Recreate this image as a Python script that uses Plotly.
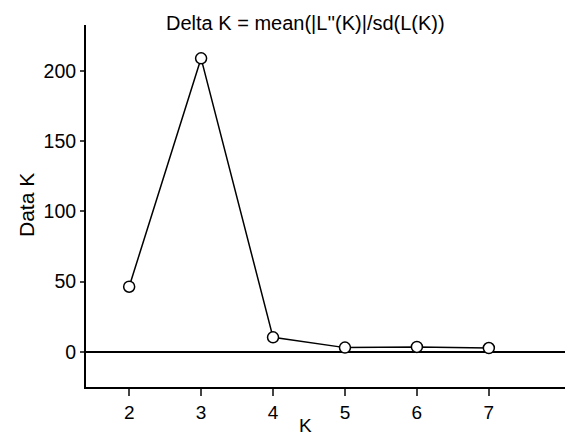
import plotly.graph_objects as go

k_values = [2, 3, 4, 5, 6, 7]
delta_k = [46.4, 208.8, 10.4, 3.1, 3.6, 2.8]
x_ticks = [2, 3, 4, 5, 6, 7]
y_ticks = [0, 50, 100, 150, 200]

# the page body has an 8px margin, so figure coords = page coords - 8
OFF = 8
W, H = 573 - OFF, 437 - OFF
ml, mr, mt, mb = 78, 0, 17, 50
pw, ph = W - ml - mr, H - mt - mb

def px(xp):
    return (xp - OFF - ml) / pw

def py(yp):
    return (H - mb - (yp - OFF)) / ph

fig = go.Figure()
fig.add_shape(type="line", xref="paper", yref="y", x0=0, x1=1, y0=0, y1=0,
              line=dict(color="black", width=2), layer="below")
fig.add_trace(go.Scatter(
    x=k_values, y=delta_k, mode="lines+markers",
    line=dict(color="black", width=1.5),
    marker=dict(symbol="circle", size=11, color="white",
                line=dict(color="black", width=1.5)),
    showlegend=False, cliponaxis=False,
))

font = "Liberation Sans, Arial, sans-serif"
fig.update_layout(
    width=W, height=H, margin=dict(l=ml, r=mr, t=mt, b=mb),
    paper_bgcolor="white", plot_bgcolor="white",
    font=dict(family=font, color="black", size=19),
    xaxis=dict(range=[1.40, 8.17], tickvals=x_ticks, ticks="outside", ticklen=7,
               tickwidth=1.5, showline=True, linecolor="black", linewidth=2,
               showgrid=False, zeroline=False, tickfont=dict(size=19)),
    yaxis=dict(range=[-24.9, 232.5], tickvals=y_ticks, ticks="outside", ticklen=4,
               tickwidth=1.5, showline=True, linecolor="black", linewidth=2,
               showgrid=False, zeroline=False, tickfont=dict(size=19.5)),
    annotations=[
        dict(text="Delta K = mean(|L''(K)|/sd(L(K))", xref="paper", yref="paper",
             x=px(305), y=py(23),
             xanchor="center", yanchor="middle", showarrow=False,
             font=dict(size=20)),
        dict(text="K", xref="paper", yref="paper",
             x=px(305), y=py(425),
             xanchor="center", yanchor="middle", showarrow=False,
             font=dict(size=19)),
        dict(text="Data K", xref="paper", yref="paper", textangle=-90,
             x=px(27), y=py(205),
             xanchor="center", yanchor="middle", showarrow=False,
             font=dict(size=21)),
    ],
)

fig.write_html("out.html")
